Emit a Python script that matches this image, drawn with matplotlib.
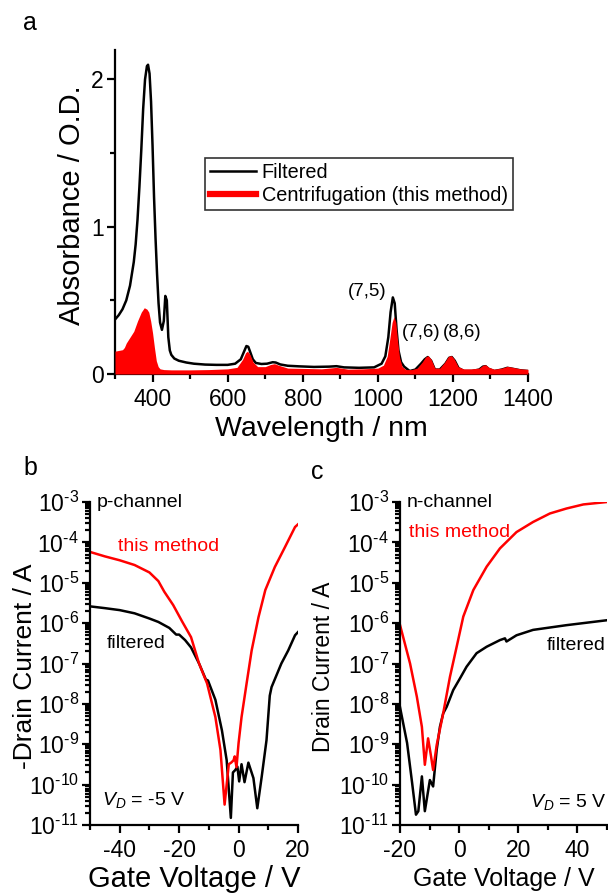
import matplotlib
matplotlib.use("Agg")
import numpy as np
import matplotlib.pyplot as plt
from matplotlib.lines import Line2D
from matplotlib.ticker import MultipleLocator, LogLocator, NullFormatter, FuncFormatter

plt.rcParams['font.family'] = ['Liberation Sans', 'DejaVu Sans']
plt.rcParams['mathtext.fontset'] = 'custom'
plt.rcParams['mathtext.rm'] = 'Liberation Sans'
plt.rcParams['mathtext.it'] = 'Liberation Sans:italic'
plt.rcParams['mathtext.bf'] = 'Liberation Sans:bold'
plt.rcParams['axes.unicode_minus'] = False

# ---------------- Panel a data ----------------
wl_filt = [300, 310, 320, 330, 340, 350, 355, 360, 365, 370, 375, 380, 385, 388, 392, 396,
           400, 404, 408, 412, 416, 420, 425, 430, 434, 438, 442, 446, 450, 458, 470, 490,
           510, 540, 570, 600, 620, 635, 645, 650, 655, 660, 667, 675, 690, 705, 720, 728,
           740, 760, 790, 830, 870, 890, 910, 950, 990, 1010, 1020, 1028, 1034, 1040, 1045,
           1050, 1055, 1062, 1070, 1085, 1100, 1115, 1125, 1133, 1142, 1152, 1165, 1180,
           1190, 1197, 1205, 1215, 1230, 1250, 1270, 1280, 1287, 1295, 1310, 1330, 1345,
           1360, 1380, 1400]
abs_filt = [0.37, 0.40, 0.44, 0.50, 0.60, 0.76, 0.88, 1.05, 1.27, 1.52, 1.80, 2.00, 2.09, 2.10,
            2.04, 1.85, 1.55, 1.20, 0.92, 0.68, 0.48, 0.35, 0.30, 0.36, 0.53, 0.50, 0.25, 0.16,
            0.13, 0.105, 0.09, 0.078, 0.07, 0.064, 0.062, 0.062, 0.07, 0.10, 0.16, 0.19, 0.185,
            0.15, 0.10, 0.075, 0.068, 0.07, 0.08, 0.078, 0.065, 0.056, 0.052, 0.048, 0.05,
            0.053, 0.045, 0.042, 0.045, 0.07, 0.12, 0.25, 0.42, 0.52, 0.48, 0.30, 0.16, 0.08,
            0.05, 0.02, 0.03, 0.07, 0.10, 0.115, 0.09, 0.03, 0.03, 0.07, 0.11, 0.115, 0.09,
            0.04, 0.02, 0.02, 0.03, 0.05, 0.053, 0.035, 0.02, 0.03, 0.042, 0.035, 0.025, 0.02]

wl_cent = [300, 310, 320, 325, 330, 340, 350, 360, 370, 378, 385, 390, 395, 400, 405, 410, 415,
           420, 430, 450, 500, 550, 600, 625, 640, 648, 653, 660, 668, 680, 700, 715, 725, 735,
           760, 800, 850, 890, 920, 960, 1000, 1015, 1025, 1032, 1038, 1043, 1048, 1053, 1058,
           1065, 1075, 1090, 1105, 1118, 1127, 1134, 1142, 1152, 1165, 1178, 1188, 1196, 1204,
           1214, 1228, 1250, 1270, 1280, 1287, 1296, 1310, 1330, 1345, 1360, 1380, 1400]
abs_cent = [0.155, 0.16, 0.165, 0.18, 0.21, 0.25, 0.29, 0.36, 0.42, 0.45, 0.44, 0.42, 0.36, 0.28,
            0.18, 0.09, 0.05, 0.035, 0.03, 0.028, 0.028, 0.03, 0.035, 0.045, 0.10, 0.145, 0.155,
            0.13, 0.08, 0.05, 0.05, 0.065, 0.07, 0.06, 0.04, 0.038, 0.035, 0.045, 0.033, 0.035,
            0.04, 0.06, 0.12, 0.24, 0.35, 0.39, 0.35, 0.22, 0.11, 0.05, 0.03, 0.03, 0.04, 0.08,
            0.115, 0.125, 0.10, 0.04, 0.04, 0.08, 0.12, 0.125, 0.10, 0.05, 0.035, 0.035, 0.04,
            0.06, 0.063, 0.045, 0.033, 0.04, 0.052, 0.045, 0.035, 0.032]

# ---------------- Panel b data ----------------
vg_b_red = [-50, -45, -40, -35, -30, -27, -25, -22, -19, -16, -13.3, -10.6, -7.8, -6.1, -4.7,
            -3.3, -2.5, -1.7, -1.3, -0.7, 0, 1, 2.7, 4.4, 6.7, 9, 12.2, 15.6, 19, 20]
id_b_red = [5.8e-5, 4.5e-5, 3.6e-5, 2.75e-5, 1.8e-5, 1.1e-5, 6.0e-6, 2.8e-6, 1.1e-6, 4.5e-7,
            1.0e-7, 3.2e-8, 4.7e-9, 7.2e-10, 3.2e-11, 3.2e-10, 3.5e-10, 4.0e-10, 5.0e-10,
            2.7e-10, 1.07e-9, 4.7e-9, 3.2e-8, 2.1e-7, 1.4e-6, 6.6e-6, 2.45e-5, 7.6e-5, 2.4e-4,
            2.8e-4]
vg_b_blk = [-50, -45, -40, -35, -30, -27, -23.3, -21, -20, -18, -16, -13.3, -11, -10.3, -7.8,
            -5.6, -4, -2.6, -1.9, -1.1, -0.4, 0.2, 1, 2, 3.3, 5, 6.3, 7.8, 9.4, 10.5, 11.1,
            14.4, 16.7, 19, 20]
id_b_blk = [2.6e-6, 2.35e-6, 2.1e-6, 1.75e-6, 1.3e-6, 1.07e-6, 7.6e-7, 5.2e-7, 5.2e-7, 3.8e-7,
            2.5e-7, 1.0e-7, 4.0e-8, 3.8e-8, 1.26e-8, 2.2e-9, 4.0e-10, 1.5e-11, 2.0e-10, 2.3e-10,
            2.8e-10, 1.2e-10, 3.2e-10, 1.15e-10, 3.5e-10, 1.45e-10, 2.6e-11, 1.6e-10, 1.26e-9,
            1.6e-8, 2.6e-8, 1.0e-7, 2.1e-7, 5.0e-7, 6.0e-7]

# ---------------- Panel c data ----------------
vg_c_red = [-20, -16.6, -14.3, -12.6, -11.6, -10.5, -9.5, -8.8, -7.6, -5.4, -3.1, -0.84, 1.4,
            4.8, 9.3, 13.8, 19.4, 25, 30.7, 36.3, 42, 50]
id_c_red = [9e-7, 1.0e-7, 1.5e-8, 2.7e-9, 3.1e-10, 1.4e-9, 5.0e-10, 2.3e-10, 9.5e-10, 5.8e-9,
            4.7e-8, 2.6e-7, 1.45e-6, 6.6e-6, 2.5e-5, 7.1e-5, 1.8e-4, 3.2e-4, 5.2e-4, 6.9e-4,
            8.7e-4, 1.0e-3]
vg_c_blk = [-20, -17.6, -15.9, -14.6, -13.8, -12.6, -11.6, -9.9, -8.8, -7.6, -6.5, -5.4, -4.2,
            -2.0, 0.3, 2.5, 5.9, 9.3, 13.8, 15.5, 16.0, 19.4, 25, 36.3, 50]
id_c_blk = [8.3e-9, 1.07e-9, 1.1e-10, 1.8e-11, 2.2e-11, 1.6e-10, 2.2e-11, 1.3e-10, 9e-11,
            7.2e-10, 2.7e-9, 5.8e-9, 8.5e-9, 2.2e-8, 4.3e-8, 8.3e-8, 1.8e-7, 2.6e-7, 3.8e-7,
            4.2e-7, 3.5e-7, 5.0e-7, 6.8e-7, 8.9e-7, 1.18e-6]

W, H = 608, 893
fig = plt.figure(figsize=(W / 100, H / 100), dpi=100)

def rect(l, r, t, b):
    return [l / W, 1 - b / H, (r - l) / W, (b - t) / H]

LW = 1.6
TICK_FS = 16.5

def style(ax):
    for s in ('top', 'right'):
        ax.spines[s].set_visible(False)
    for s in ('left', 'bottom'):
        ax.spines[s].set_linewidth(LW)
    ax.tick_params(which='major', direction='out', length=6, width=LW, labelsize=TICK_FS, pad=2)
    ax.tick_params(which='minor', direction='out', length=3.5, width=LW)
    ax.tick_params(axis='x', which='major', pad=4)

def log_label(v, pos):
    e = int(round(np.log10(v)))
    s = str(e).replace('-', '\u2010')
    return r'$\mathregular{10^{%s}}$' % s

def log_axis(ax):
    ax.set_yscale('log')
    ax.set_ylim(1e-11, 1e-3)
    ax.yaxis.set_major_locator(LogLocator(base=10, numticks=20))
    ax.yaxis.set_minor_locator(LogLocator(base=10, subs=range(2, 10), numticks=20))
    ax.yaxis.set_minor_formatter(NullFormatter())
    ax.yaxis.set_major_formatter(FuncFormatter(log_label))

# ---------------- Panel a ----------------
axa = fig.add_axes(rect(115, 528, 50, 374))
style(axa)
axa.plot(wl_filt, abs_filt, color='black', lw=1.8, zorder=2)
axa.fill_between(wl_cent, 0, abs_cent, color='#ff0000', lw=0, zorder=3)
axa.set_xlim(300, 1400)
axa.set_ylim(0, 2.2)
axa.set_xticks([400, 600, 800, 1000, 1200, 1400])
axa.xaxis.set_minor_locator(MultipleLocator(100))
axa.yaxis.set_major_locator(MultipleLocator(1))
axa.yaxis.set_minor_locator(MultipleLocator(0.5))
axa.set_xlabel('Wavelength / nm', fontsize=20.5, labelpad=4)
axa.set_ylabel('Absorbance / O.D.', fontsize=21)
axa.yaxis.set_label_coords((86 - 115) / 413, 0.52)
axa.text(971, 0.557, '(7,5)', fontsize=13.5, ha='center', va='center')
axa.text(1115, 0.285, '(7,6)', fontsize=13.5, ha='center', va='center')
axa.text(1225, 0.285, '(8,6)', fontsize=13.5, ha='center', va='center')
handles = [Line2D([], [], color='black', lw=1.8),
           Line2D([], [], color='#ff0000', lw=4.5)]
leg = axa.legend(handles, ['Filtered', 'Centrifugation (this method)'],
                 loc='upper left', bbox_to_anchor=(205 / W, 1 - 158 / H),
                 bbox_transform=fig.transFigure, fontsize=14.3, frameon=True,
                 fancybox=False, edgecolor='black', handlelength=2.3,
                 borderpad=0.25, labelspacing=0.2, handletextpad=0.3,
                 borderaxespad=0)
leg.get_frame().set_linewidth(1.2)
fig.text(30 / W, 1 - 23 / H, 'a', fontsize=18, ha='center', va='center')

# ---------------- Panel b ----------------
axb = fig.add_axes(rect(90, 298, 502, 825))
style(axb)
log_axis(axb)
axb.plot(vg_b_blk, id_b_blk, color='black', lw=1.8)
axb.plot(vg_b_red, id_b_red, color='#ff0000', lw=1.8)
axb.set_xlim(-50, 20)
axb.set_xticks([-40, -20, 0, 20])
axb.xaxis.set_minor_locator(MultipleLocator(10))
axb.set_xlabel('Gate Voltage / V', fontsize=21, labelpad=2)
axb.set_ylabel('-Drain Current / A', fontsize=19)
axb.yaxis.set_label_coords((37 - 90) / 208, 0.49)
axb.text(0.034, 0.997, 'p-channel', transform=axb.transAxes, fontsize=14, ha='left', va='center')
axb.text(0.135, 0.861, 'this method', transform=axb.transAxes, fontsize=14, ha='left',
         va='center', color='#ff0000')
axb.text(0.082, 0.563, 'filtered', transform=axb.transAxes, fontsize=14, ha='left', va='center')
axb.text(0.058, 0.077, r'$V_D$ = -5 V', transform=axb.transAxes, fontsize=14, ha='left',
         va='center')
fig.text(30 / W, 1 - 468 / H, 'b', fontsize=18, ha='center', va='center')

# ---------------- Panel c ----------------
axc = fig.add_axes(rect(400, 607, 502, 825))
style(axc)
log_axis(axc)
axc.plot(vg_c_blk, id_c_blk, color='black', lw=1.8)
axc.plot(vg_c_red, id_c_red, color='#ff0000', lw=1.8)
axc.set_xlim(-20, 50)
axc.set_xticks([-20, 0, 20, 40])
axc.xaxis.set_minor_locator(MultipleLocator(10))
axc.set_xlabel('Gate Voltage / V', fontsize=18, labelpad=4)
axc.set_ylabel('Drain Current / A', fontsize=16.5)
axc.yaxis.set_label_coords((335 - 400) / 207, 0.49)
axc.text(0.034, 0.997, 'n-channel', transform=axc.transAxes, fontsize=14, ha='left', va='center')
axc.text(0.043, 0.907, 'this method', transform=axc.transAxes, fontsize=14, ha='left',
         va='center', color='#ff0000')
axc.text(0.71, 0.557, 'filtered', transform=axc.transAxes, fontsize=14, ha='left', va='center')
axc.text(0.628, 0.071, r'$V_D$ = 5 V', transform=axc.transAxes, fontsize=14, ha='left',
         va='center')
fig.text(317 / W, 1 - 472 / H, 'c', fontsize=18, ha='center', va='center')

fig.savefig('out.png', dpi=100)
